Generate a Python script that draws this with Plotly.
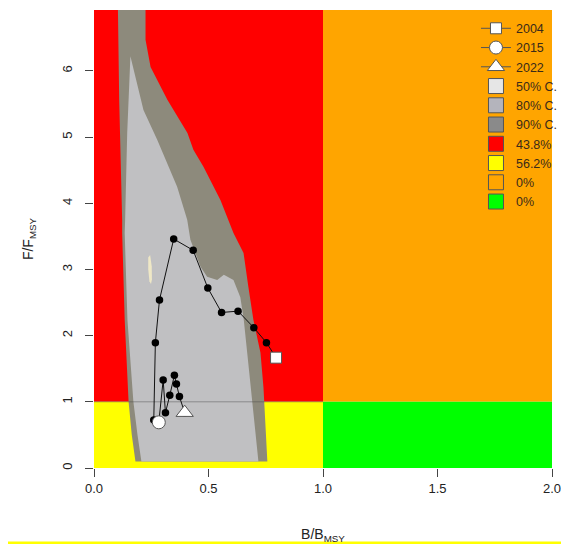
import plotly.graph_objects as go

# ---- data ----
years = list(range(2004, 2023))
b_ratio = [0.795, 0.753, 0.698, 0.629, 0.557, 0.497, 0.433, 0.348, 0.286, 0.268,
           0.261, 0.283, 0.302, 0.312, 0.331, 0.351, 0.360, 0.373, 0.396]
f_ratio = [1.667, 1.894, 2.12, 2.37, 2.35, 2.72, 3.29, 3.46, 2.54, 1.894,
           0.725, 0.69, 1.33, 0.836, 1.10, 1.40, 1.27, 1.08, 0.836]

# 90% confidence region outline
ci90_b = [0.103, 0.110, 0.123, 0.123, 0.134, 0.151, 0.165, 0.181,
          0.757, 0.748, 0.740, 0.727, 0.696, 0.674, 0.653, 0.609, 0.552, 0.478,
          0.434, 0.408, 0.321, 0.247, 0.225, 0.225]
ci90_f = [7.3, 5.56, 3.75, 3.55, 2.24, 1.0, 0.5, 0.1,
          0.1, 0.73, 1.22, 1.74, 2.24, 2.74, 3.25, 3.55, 4.05, 4.55,
          4.81, 5.06, 5.56, 6.06, 6.47, 7.3]
# 80% confidence region outline
ci80_b = [0.159, 0.145, 0.136, 0.134, 0.146, 0.160, 0.172, 0.190, 0.207,
          0.718, 0.698, 0.683, 0.669, 0.654, 0.639, 0.609, 0.567, 0.538,
          0.494, 0.465, 0.421, 0.407, 0.363, 0.276, 0.216]
ci80_f = [6.22, 5.06, 3.75, 3.55, 2.24, 1.5, 1.0, 0.5, 0.1,
          0.1, 0.73, 1.22, 1.74, 2.24, 2.58, 2.84, 2.92, 2.84,
          2.89, 3.04, 3.45, 3.75, 4.25, 4.96, 5.41]
# 50% confidence region outline
ci50_b = [0.237, 0.245, 0.252, 0.253, 0.249, 0.242, 0.237]
ci50_f = [3.18, 3.22, 3.05, 2.85, 2.78, 2.82, 3.0]

b_ref, f_ref, b_max, f_max = 1.0, 1.0, 2.0, 7.5
quad_labels = ["43.8%", "56.2%", "0%", "0%"]
x_ticks = [0.0, 0.5, 1.0, 1.5, 2.0]
x_ticklabels = ["0.0", "0.5", "1.0", "1.5", "2.0"]
y_ticks = [0, 1, 2, 3, 4, 5, 6]

RED, YEL, ORA, GRN = "#FF0000", "#FFFF00", "#FFA500", "#00FF00"
C90, C80, C50 = "#8d8a7c", "#c0c0c2", "#efe8c6"

fig = go.Figure()

def rect(x0, x1, y0, y1, col):
    fig.add_trace(go.Scatter(x=[x0, x1, x1, x0, x0], y=[y0, y0, y1, y1, y0],
                             mode="lines", fill="toself", fillcolor=col,
                             line=dict(width=0, color=col), showlegend=False,
                             hoverinfo="skip"))

rect(0, b_ref, f_ref, f_max, RED)
rect(0, b_ref, 0, f_ref, YEL)
rect(b_ref, b_max, f_ref, f_max, ORA)
rect(b_ref, b_max, 0, f_ref, GRN)

for xs, ys, col in [(ci90_b, ci90_f, C90), (ci80_b, ci80_f, C80), (ci50_b, ci50_f, C50)]:
    fig.add_trace(go.Scatter(x=xs + [xs[0]], y=ys + [ys[0]], mode="lines",
                             fill="toself", fillcolor=col, line=dict(width=0, color=col),
                             showlegend=False, hoverinfo="skip"))

# reference line F = Fmsy
fig.add_trace(go.Scatter(x=[0, b_ref], y=[f_ref, f_ref], mode="lines",
                         line=dict(color="rgba(70,70,70,0.45)", width=1),
                         showlegend=False, hoverinfo="skip"))

# trajectory
fig.add_trace(go.Scatter(x=b_ratio, y=f_ratio, mode="lines+markers",
                         line=dict(color="#111111", width=1),
                         marker=dict(color="#000000", size=7.5),
                         showlegend=False))

# highlighted years
hl = {2004: ("square", 11), 2015: ("circle", 13), 2022: ("triangle-up", 15)}
rank = 1
for yr, (sym, sz) in hl.items():
    i = years.index(yr)
    fig.add_trace(go.Scatter(x=[b_ratio[i]], y=[f_ratio[i]], mode="lines+markers",
                             name=str(yr), legendrank=rank,
                             line=dict(color="#555555", width=1),
                             marker=dict(symbol=sym, size=sz, color="white",
                                         line=dict(color="#555555", width=1))))
    rank += 1

# legend-only boxes
legend_boxes = [("50% C.", "#e6e6e6"), ("80% C.", "#b4b4bc"), ("90% C.", "#8a8a8a"),
                (quad_labels[0], RED), (quad_labels[1], YEL),
                (quad_labels[2], ORA), (quad_labels[3], GRN)]
for name, col in legend_boxes:
    fig.add_trace(go.Scatter(x=[None], y=[None], mode="markers", name=name,
                             legendrank=rank,
                             marker=dict(symbol="square", size=15, color=col,
                                         line=dict(color="#555555", width=1))))
    rank += 1

# figure sits at an 8px page offset, so it is sized to fill the 569x544 window
fig.update_layout(
    width=561, height=536,
    margin=dict(l=85.5, r=17.3, t=2, b=76),
    paper_bgcolor="white", plot_bgcolor="white",
    font=dict(family="Liberation Sans, Arial, sans-serif", size=13, color="#222222"),
    showlegend=True,
    legend=dict(x=0.834, y=0.992, xanchor="left", yanchor="top",
                bgcolor="rgba(0,0,0,0)", borderwidth=0,
                font=dict(size=12.5, color="#3a2a1a"), traceorder="normal",
                itemsizing="trace"),
    xaxis=dict(range=[0, 2], tickvals=x_ticks, ticktext=x_ticklabels,
               showgrid=False, zeroline=False, showline=False, automargin=False,
               ticks="outside", ticklen=8, tickcolor="#444444",
               title=dict(text="B/B<sub>MSY</sub>", standoff=41, font=dict(size=14))),
    yaxis=dict(range=[0, 6.92], tickvals=y_ticks, tickangle=-90,
               showgrid=False, zeroline=False, showline=False, automargin=False,
               ticks="outside", ticklen=8, tickcolor="#444444",
               ticklabelstandoff=8,
               title=dict(text="F/F<sub>MSY</sub>", standoff=22, font=dict(size=14))),
    shapes=[dict(type="rect", xref="paper", yref="paper", x0=-0.21, x1=1.05,
                 y0=-0.2, y1=-0.1605, fillcolor="#FFFF00", line=dict(width=0),
                 layer="above")],
)

fig.write_html("out.html")
